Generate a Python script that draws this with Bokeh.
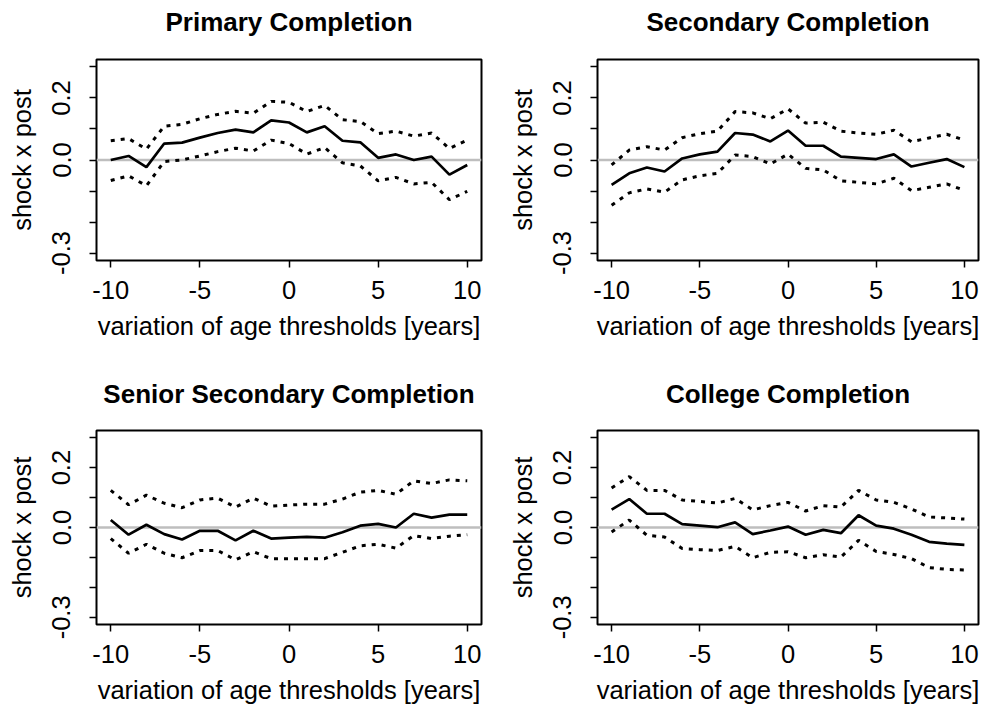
from bokeh.plotting import figure
from bokeh.layouts import gridplot
from bokeh.models import FixedTicker, Span, Range1d, LinearAxis
from bokeh.embed import file_html
from bokeh.resources import INLINE

years = list(range(-10, 11))
x_ticks = [-10, -5, 0, 5, 10]
x_tick_labels = {-10: "-10", -5: "-5", 0: "0", 5: "5", 10: "10"}
y_ticks = [-0.3, -0.2, -0.1, 0.0, 0.1, 0.2, 0.3]
y_tick_labels = {-0.3: "-0.3", -0.2: "", -0.1: "", 0: "0.0", 0.1: "", 0.2: "0.2", 0.3: ""}

titles = ["Primary Completion", "Secondary Completion",
          "Senior Secondary Completion", "College Completion"]

primary_est = [0.000, 0.013, -0.023, 0.053, 0.056, 0.072, 0.087, 0.098, 0.089, 0.128, 0.121,
               0.089, 0.109, 0.062, 0.057, 0.007, 0.018, 0.000, 0.011, -0.047, -0.016]
primary_hi = [0.062, 0.069, 0.035, 0.109, 0.115, 0.133, 0.147, 0.157, 0.151, 0.189, 0.186,
              0.156, 0.176, 0.130, 0.124, 0.085, 0.093, 0.077, 0.087, 0.037, 0.064]
primary_lo = [-0.066, -0.051, -0.083, -0.005, 0.000, 0.013, 0.027, 0.038, 0.029, 0.064, 0.053,
              0.019, 0.040, -0.009, -0.019, -0.067, -0.056, -0.077, -0.072, -0.128, -0.101]

secondary_est = [-0.080, -0.043, -0.024, -0.037, 0.005, 0.018, 0.027, 0.087, 0.082, 0.060, 0.095,
                 0.046, 0.046, 0.011, 0.007, 0.003, 0.018, -0.021, -0.009, 0.003, -0.023]
secondary_hi = [-0.016, 0.032, 0.043, 0.032, 0.072, 0.085, 0.093, 0.156, 0.152, 0.133, 0.165,
                0.119, 0.122, 0.093, 0.087, 0.083, 0.096, 0.059, 0.071, 0.083, 0.064]
secondary_lo = [-0.146, -0.106, -0.093, -0.104, -0.064, -0.051, -0.043, 0.016, 0.011, -0.013, 0.019,
                -0.027, -0.032, -0.067, -0.072, -0.077, -0.059, -0.099, -0.088, -0.077, -0.098]

senior_est = [0.025, -0.024, 0.009, -0.022, -0.040, -0.011, -0.011, -0.043, -0.011, -0.037, -0.034,
              -0.031, -0.034, -0.016, 0.006, 0.012, 0.000, 0.046, 0.033, 0.043, 0.043]
senior_hi = [0.124, 0.076, 0.108, 0.081, 0.066, 0.092, 0.098, 0.068, 0.098, 0.071, 0.075,
             0.078, 0.078, 0.095, 0.118, 0.124, 0.111, 0.156, 0.147, 0.159, 0.156]
senior_lo = [-0.037, -0.086, -0.056, -0.086, -0.101, -0.077, -0.077, -0.108, -0.081, -0.104, -0.104,
             -0.104, -0.104, -0.083, -0.061, -0.056, -0.069, -0.027, -0.037, -0.029, -0.024]

college_est = [0.060, 0.095, 0.046, 0.046, 0.011, 0.006, 0.001, 0.017, -0.022, -0.010, 0.003,
               -0.024, -0.008, -0.019, 0.041, 0.006, -0.004, -0.024, -0.048, -0.054, -0.058]
college_hi = [0.132, 0.170, 0.124, 0.124, 0.092, 0.087, 0.082, 0.097, 0.059, 0.073, 0.084,
              0.055, 0.073, 0.068, 0.124, 0.092, 0.084, 0.062, 0.035, 0.032, 0.028]
college_lo = [-0.015, 0.025, -0.026, -0.032, -0.070, -0.074, -0.077, -0.063, -0.101, -0.083, -0.081,
              -0.101, -0.091, -0.099, -0.043, -0.080, -0.090, -0.104, -0.134, -0.140, -0.142]

FONT = "Liberation Sans"
LAB = "25.5px"


def make_panel(title, est, hi, lo, height, bl, br, bt, bb, title_gap):
    p = figure(width=490, height=height, output_backend="svg", toolbar_location=None,
               x_range=Range1d(-10.8, 10.8), y_range=Range1d(-0.324, 0.324),
               min_border_left=bl, min_border_right=br, min_border_top=bt, min_border_bottom=bb)
    p.background_fill_color = "white"
    p.border_fill_color = "white"
    p.outline_line_color = "black"
    p.outline_line_width = 2
    p.outline_line_alpha = 1
    p.grid.visible = False

    xa = p.below[0]
    ya = p.left[0]

    # panel title drawn as the label of a tick-less axis above the frame
    top = LinearAxis(ticker=FixedTicker(ticks=[]), axis_line_color=None,
                     major_tick_line_color=None, minor_tick_line_color=None,
                     major_tick_out=0, major_tick_in=0, minor_tick_out=0,
                     major_label_standoff=0,
                     axis_label=title, axis_label_standoff=title_gap,
                     axis_label_text_font=FONT, axis_label_text_font_size="26px",
                     axis_label_text_font_style="bold", axis_label_text_color="black")
    p.add_layout(top, "above")

    p.add_layout(Span(location=0, dimension="width", line_color="#bebebe", line_width=2.4,
                      level="underlay"))
    p.line(years, hi, line_color="black", line_width=3, line_dash="4 6")
    p.line(years, lo, line_color="black", line_width=3, line_dash="4 6")
    p.line(years, est, line_color="black", line_width=2.7)

    for ax in (xa, ya):
        ax.axis_line_color = None
        ax.major_tick_in = 0
        ax.major_tick_out = 7
        ax.major_tick_line_color = "black"
        ax.major_tick_line_width = 1.5
        ax.minor_tick_line_color = None
        ax.major_label_text_font = FONT
        ax.major_label_text_font_size = LAB
        ax.major_label_text_color = "black"
        ax.axis_label_text_font = FONT
        ax.axis_label_text_font_size = LAB
        ax.axis_label_text_font_style = "normal"
        ax.axis_label_text_color = "black"

    xa.ticker = FixedTicker(ticks=x_ticks)
    xa.major_label_overrides = x_tick_labels
    xa.axis_label = "variation of age thresholds [years]"
    xa.major_label_standoff = 13
    xa.axis_label_standoff = 10

    ya.ticker = FixedTicker(ticks=y_ticks)
    ya.major_label_overrides = y_tick_labels
    ya.major_label_orientation = "vertical"
    ya.major_label_standoff = 19
    ya.axis_label = "shock x post"
    ya.axis_label_standoff = 14
    return p


p1 = make_panel(titles[0], primary_est, primary_hi, primary_lo, 370, 96, 9, 59, 110, 23)
p2 = make_panel(titles[1], secondary_est, secondary_hi, secondary_lo, 370, 107, 2, 59, 110, 23)
p3 = make_panel(titles[2], senior_est, senior_hi, senior_lo, 336, 96, 9, 60, 76, 22)
p4 = make_panel(titles[3], college_est, college_hi, college_lo, 336, 107, 2, 60, 76, 22)

grid = gridplot([[p1, p2], [p3, p4]], toolbar_location=None)

open("out.html", "w").write(file_html(grid, INLINE))
